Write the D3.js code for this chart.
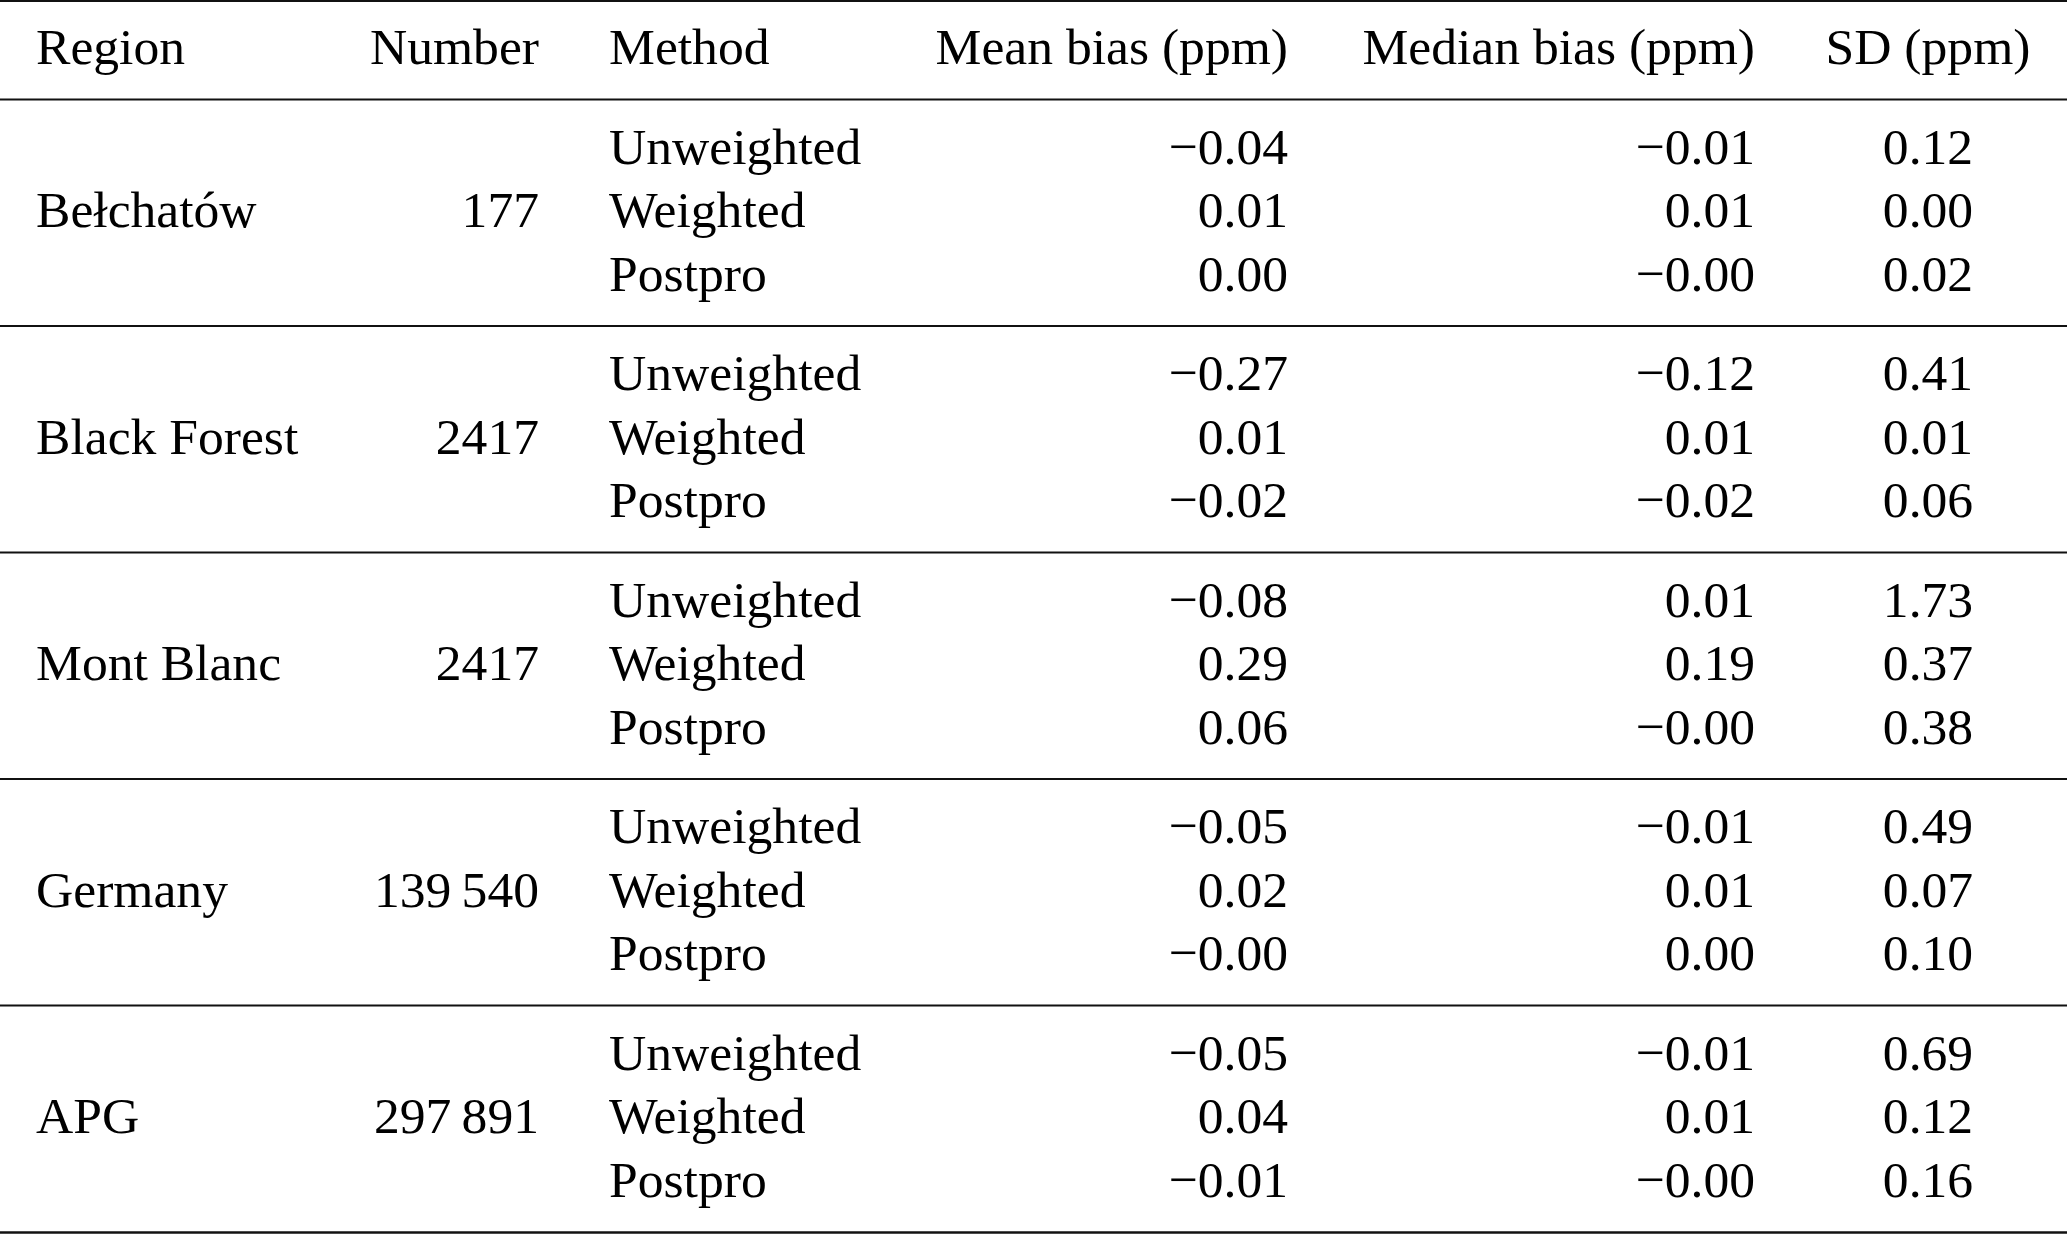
<!DOCTYPE html>
<html>
<head>
<meta charset="utf-8">
<script src="https://cdn.jsdelivr.net/npm/d3@7"></script>
<style>
  html, body { margin: 0; padding: 0; background: #fff; }
  svg text { font-family: "Liberation Serif", "Times New Roman", serif; fill: #000; }
</style>
</head>
<body>
<svg id="table" width="2067" height="1234"></svg>
<script>
// table content
const headers = ["Region", "Number", "Method", "Mean bias (ppm)", "Median bias (ppm)", "SD (ppm)"];
const regions = ["Bełchatów", "Black Forest", "Mont Blanc", "Germany", "APG"];
const numbers = ["177", "2417", "2417", "139\u2009540", "297\u2009891"];
const methods = ["Unweighted", "Weighted", "Postpro"];
const meanBias = [
  [-0.04, 0.01, 0.00],
  [-0.27, 0.01, -0.02],
  [-0.08, 0.29, 0.06],
  [-0.05, 0.02, -0.00],
  [-0.05, 0.04, -0.01]
];
const medianBias = [
  [-0.01, 0.01, -0.00],
  [-0.12, 0.01, -0.02],
  [0.01, 0.19, -0.00],
  [-0.01, 0.01, 0.00],
  [-0.01, 0.01, -0.00]
];
const sd = [
  [0.12, 0.00, 0.02],
  [0.41, 0.01, 0.06],
  [1.73, 0.37, 0.38],
  [0.49, 0.07, 0.10],
  [0.69, 0.12, 0.16]
];

const svg = d3.select("#table");
const W = 2067;
const fontSize = 51.6;

// column anchors
const cols = [
  {x: 36,   anchor: "start"},
  {x: 539,  anchor: "end"},
  {x: 609,  anchor: "start"},
  {x: 1288, anchor: "end"},
  {x: 1755, anchor: "end"},
  {x: 1928, anchor: "middle"}
];

// vertical layout: block index -> top rule, row within block -> baseline
const blockY = d3.scaleLinear().domain([0, 1]).range([99.5, 326]);
const rowY = d3.scaleLinear().domain([0, 1]).range([64, 127.5]);

// signed values keep the minus sign even for -0.00
function fmt(v, neg) {
  const s = Math.abs(v).toFixed(2);
  return (neg ? "\u2212" : "") + s;
}
// sign info (negative zero is shown with a minus)
const meanNeg = [[1,0,0],[1,0,1],[1,0,0],[1,0,1],[1,0,1]];
const medNeg = [[1,0,1],[1,0,1],[0,0,1],[1,0,0],[1,0,1]];

// rules
const rules = [{y: 1, w: 2}, {y: blockY(0), w: 2}];
regions.forEach((r, k) => rules.push({y: blockY(k + 1), w: k === regions.length - 1 ? 2.4 : 1.8}));
rules[rules.length - 1].y = 1232.5;

svg.selectAll("line.rule")
  .data(rules)
  .join("line")
  .attr("class", "rule")
  .attr("x1", 0).attr("x2", W)
  .attr("y1", d => d.y).attr("y2", d => d.y)
  .attr("stroke", "#111")
  .attr("stroke-width", d => d.w);

// header
svg.selectAll("text.head")
  .data(headers)
  .join("text")
  .attr("class", "head")
  .attr("x", (d, i) => cols[i].x)
  .attr("y", 64)
  .attr("text-anchor", (d, i) => cols[i].anchor)
  .attr("font-size", fontSize)
  .text(d => d);

// body cells
const cells = [];
regions.forEach((reg, k) => {
  const top = blockY(k);
  cells.push({col: 0, y: top + rowY(1), text: reg});
  cells.push({col: 1, y: top + rowY(1), text: numbers[k]});
  methods.forEach((m, j) => {
    const y = top + rowY(j);
    cells.push({col: 2, y, text: m});
    cells.push({col: 3, y, text: fmt(meanBias[k][j], meanNeg[k][j])});
    cells.push({col: 4, y, text: fmt(medianBias[k][j], medNeg[k][j])});
    cells.push({col: 5, y, text: fmt(sd[k][j], false)});
  });
});

svg.selectAll("text.cell")
  .data(cells)
  .join("text")
  .attr("class", "cell")
  .attr("x", d => cols[d.col].x)
  .attr("y", d => d.y)
  .attr("text-anchor", d => cols[d.col].anchor)
  .attr("font-size", fontSize)
  .text(d => d.text);
</script>
</body>
</html>
